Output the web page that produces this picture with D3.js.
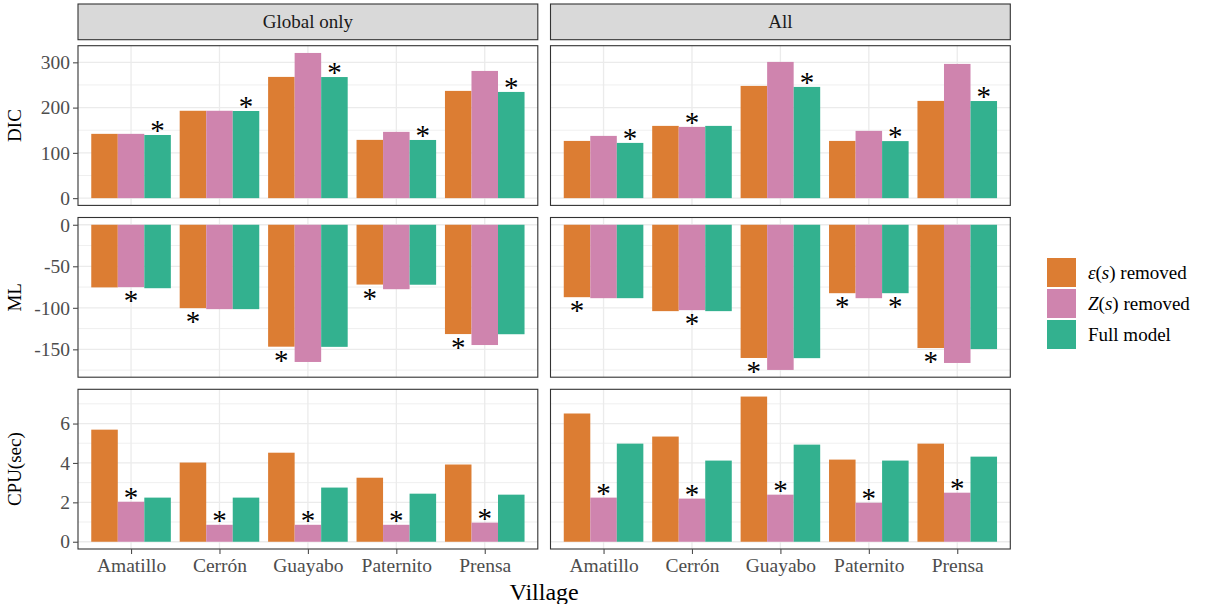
<!DOCTYPE html>
<html>
<head>
<meta charset="utf-8">
<script src="https://cdn.jsdelivr.net/npm/d3@7"></script>
<style>
  body { margin: 0; background: #fff; }
  svg text { font-family: "Liberation Serif", "Times New Roman", serif; }
</style>
</head>
<body>
<div id="chart"></div>
<script>
// ---------------- data ----------------
var villages = ['Amatillo', 'Cerrón', 'Guayabo', 'Paternito', 'Prensa'];
var schemes = ['Global only', 'All'];
var models = ['eps', 'Z', 'full'];
var colors = ['#DC7D33', '#CF84AE', '#33B18F'];

// one triple per village: [eps(s) removed, Z(s) removed, Full model]
var dicGlobal = [[142, 142, 139.5], [193, 193, 192.5], [267.8, 320.7, 267.5], [128.7, 146.4, 128.5], [236.9, 281, 234.6]];
var dicAll    = [[126.4, 137.5, 122], [159.6, 157.4, 159.6], [247.9, 300.9, 245.7], [126.4, 148.6, 126], [214.8, 296.5, 214.5]];
var mlGlobal  = [[-75.4, -75.1, -76.4], [-100.4, -101.6, -101.6], [-146.8, -165.2, -147], [-72, -77.6, -72.2], [-131.6, -144.8, -131.8]];
var mlAll     = [[-87.2, -88.4, -88.4], [-104, -102.8, -104], [-160.4, -174.8, -160.6], [-82.4, -88.4, -82.4], [-148.4, -166.4, -149.6]];
var cpuGlobal = [[5.69, 2.03, 2.24], [4.02, 0.86, 2.24], [4.52, 0.86, 2.75], [3.25, 0.86, 2.44], [3.92, 0.97, 2.39]];
var cpuAll    = [[6.51, 2.24, 4.98], [5.34, 2.19, 4.12], [7.37, 2.39, 4.93], [4.17, 1.98, 4.12], [4.98, 2.49, 4.32]];

// index of the starred model(s) per village
var dicGlobalBest = [[2], [2], [2], [2], [2]];
var dicAllBest    = [[2], [1], [2], [2], [2]];
var mlGlobalBest  = [[1], [0], [0], [0], [0]];
var mlAllBest     = [[0], [1], [0], [0, 2], [0]];
var cpuGlobalBest = [[1], [1], [1], [1], [1]];
var cpuAllBest    = [[1], [1], [1], [1], [1]];

var dicTicks = [0, 100, 200, 300], dicMinor = [50, 150, 250];
var mlTicks = [0, -50, -100, -150], mlMinor = [-25, -75, -125, -175];
var cpuTicks = [0, 2, 4, 6], cpuMinor = [1, 3, 5, 7];

var rows = [
	{ title: 'DIC', data: [dicGlobal, dicAll], best: [dicGlobalBest, dicAllBest], ticks: dicTicks, minor: dicMinor },
	{ title: 'ML', data: [mlGlobal, mlAll], best: [mlGlobalBest, mlAllBest], ticks: mlTicks, minor: mlMinor },
	{ title: 'CPU(sec)', data: [cpuGlobal, cpuAll], best: [cpuGlobalBest, cpuAllBest], ticks: cpuTicks, minor: cpuMinor }
];

// ---------------- layout ----------------
var width = 1211, height = 604;
var panelX = [78, 550.5];
var panelW = 459.8;
var rowY = [45.7, 217.5, 389.3];
var panelH = 159.7;
var stripTop = 4, stripBottom = 39.7;
var grid = '#EBEBEB', border = '#333333', tickGrey = '#4D4D4D';

var svg = d3.select('#chart').append('svg')
	.attr('width', width)
	.attr('height', height);

// shared x scale (discrete positions 1..5 with ggplot's 0.6 expansion)
var xPos = d3.scaleLinear().domain([0.4, 5.6]).range([0, panelW]);
var dodge = 0.3;

// strips
schemes.forEach(function (s, c) {
	svg.append('rect')
		.attr('x', panelX[c]).attr('y', stripTop)
		.attr('width', panelW).attr('height', stripBottom - stripTop)
		.attr('fill', '#D9D9D9').attr('stroke', border).attr('stroke-width', 1.1);
	svg.append('text')
		.attr('x', panelX[c] + panelW / 2).attr('y', (stripTop + stripBottom) / 2 + 6)
		.attr('text-anchor', 'middle')
		.attr('fill', '#1A1A1A')
		.style('font-size', '19px')
		.text(s);
});

rows.forEach(function (row, r) {
	// y domain: data + 0, expanded by 5%
	var all = [0];
	row.data.forEach(function (d) { d.forEach(function (t) { all = all.concat(t); }); });
	var ext = d3.extent(all);
	var pad = (ext[1] - ext[0]) * 0.05;
	var y = d3.scaleLinear()
		.domain([ext[0] - pad, ext[1] + pad])
		.range([panelH, 0]);

	row.data.forEach(function (vals, c) {
		var g = svg.append('g')
			.attr('transform', 'translate(' + panelX[c] + ',' + rowY[r] + ')');

		// grid
		g.selectAll('.minor').data(row.minor).enter().append('line')
			.attr('x1', 0).attr('x2', panelW)
			.attr('y1', function (d) { return y(d); })
			.attr('y2', function (d) { return y(d); })
			.attr('stroke', grid).attr('stroke-width', 0.8);
		g.selectAll('.major').data(row.ticks).enter().append('line')
			.attr('x1', 0).attr('x2', panelW)
			.attr('y1', function (d) { return y(d); })
			.attr('y2', function (d) { return y(d); })
			.attr('stroke', grid).attr('stroke-width', 1.3);
		g.selectAll('.vgrid').data(villages).enter().append('line')
			.attr('x1', function (d, i) { return xPos(i + 1); })
			.attr('x2', function (d, i) { return xPos(i + 1); })
			.attr('y1', 0).attr('y2', panelH)
			.attr('stroke', grid).attr('stroke-width', 1.3);

		// bars
		var groups = g.selectAll('.village').data(vals).enter().append('g');
		groups.selectAll('rect')
			.data(function (d, i) { return d.map(function (v, m) { return { v: v, m: m, i: i }; }); })
			.enter().append('rect')
			.attr('x', function (d) { return xPos(d.i + 1 + (d.m - 1) * dodge - dodge / 2); })
			.attr('width', xPos(dodge) - xPos(0))
			.attr('y', function (d) { return Math.min(y(d.v), y(0)); })
			.attr('height', function (d) { return Math.abs(y(d.v) - y(0)); })
			.attr('fill', function (d) { return colors[d.m]; });

		// stars
		var stars = [];
		row.best[c].forEach(function (list, i) {
			list.forEach(function (m) { stars.push({ i: i, m: m, v: vals[i][m] }); });
		});
		g.selectAll('.star').data(stars).enter().append('text')
			.attr('x', function (d) { return xPos(d.i + 1 + (d.m - 1) * dodge); })
			.attr('y', function (d) {
				var cy = d.v >= 0 ? y(d.v) - 8 : y(d.v) + 10;
				return cy + 13;
			})
			.attr('text-anchor', 'middle')
			.attr('fill', '#000')
			.style('font-size', '29px')
			.text('*');

		// border
		g.append('rect')
			.attr('width', panelW).attr('height', panelH)
			.attr('fill', 'none').attr('stroke', border).attr('stroke-width', 1.1);

		// y axis on left column
		if (c === 0) {
			var ya = g.append('g')
				.call(d3.axisLeft(y).tickValues(row.ticks).tickSize(5).tickPadding(3)
					.tickFormat(function (d) { return String(d); }));
			ya.select('.domain').remove();
			ya.selectAll('line').attr('stroke', tickGrey).attr('stroke-width', 1.1);
			ya.selectAll('text')
				.attr('fill', tickGrey)
				.style('font-size', '19.5px')
				.style('font-family', '"Liberation Serif", serif');
		}
		// x axis on bottom row
		if (r === rows.length - 1) {
			var xa = g.append('g')
				.attr('transform', 'translate(0,' + panelH + ')')
				.call(d3.axisBottom(xPos).tickValues([1, 2, 3, 4, 5]).tickSize(5).tickPadding(4)
					.tickFormat(function (d) { return villages[d - 1]; }));
			xa.select('.domain').remove();
			xa.selectAll('line').attr('stroke', tickGrey).attr('stroke-width', 1.1);
			xa.selectAll('text')
				.attr('fill', tickGrey)
				.style('font-size', '19.5px')
				.style('font-family', '"Liberation Serif", serif');
		}
	});

	// row title
	svg.append('text')
		.attr('transform', 'translate(21,' + (rowY[r] + panelH / 2) + ') rotate(-90)')
		.attr('text-anchor', 'middle')
		.attr('fill', '#000')
		.style('font-size', '19px')
		.text(row.title);
});

// x title
svg.append('text')
	.attr('x', (panelX[0] + panelX[1] + panelW) / 2)
	.attr('y', 600)
	.attr('text-anchor', 'middle')
	.attr('fill', '#000')
	.style('font-size', '24px')
	.text('Village');

// legend
var legend = svg.append('g').attr('transform', 'translate(1047,258)');
var legendItems = legend.selectAll('g').data(models).enter().append('g')
	.attr('transform', function (d, i) { return 'translate(0,' + i * 31 + ')'; });
legendItems.append('rect')
	.attr('width', 29).attr('height', 29)
	.attr('fill', function (d, i) { return colors[i]; });
var labels = legendItems.append('text')
	.attr('x', 41).attr('y', 21)
	.attr('fill', '#000')
	.style('font-size', '19px');
labels.each(function (d) {
	var t = d3.select(this);
	if (d === 'eps') {
		t.append('tspan').style('font-style', 'italic').text('ε');
		t.append('tspan').text('(');
		t.append('tspan').style('font-style', 'italic').text('s');
		t.append('tspan').text(') removed');
	} else if (d === 'Z') {
		t.append('tspan').style('font-style', 'italic').text('Z');
		t.append('tspan').text('(');
		t.append('tspan').style('font-style', 'italic').text('s');
		t.append('tspan').text(') removed');
	} else {
		t.text('Full model');
	}
});
</script>
</body>
</html>
